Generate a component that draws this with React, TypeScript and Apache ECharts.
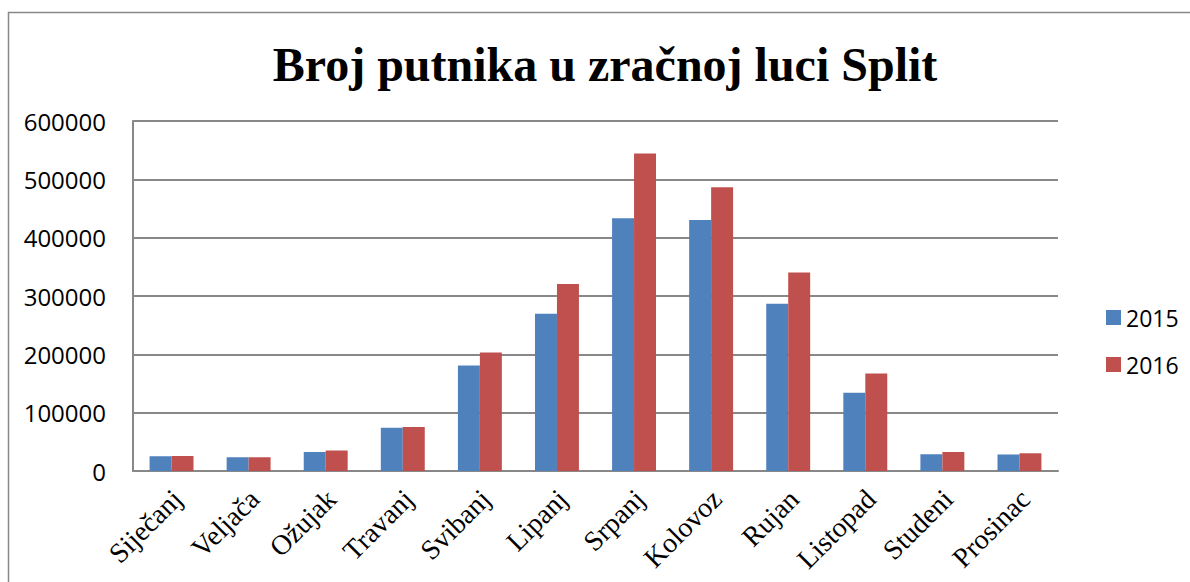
import React, { useEffect, useRef } from "react";
import * as echarts from "echarts";

const categories = ["Siječanj", "Veljača", "Ožujak", "Travanj", "Svibanj", "Lipanj", "Srpanj", "Kolovoz", "Rujan", "Listopad", "Studeni", "Prosinac"];
const series2015 = [25300, 23600, 32700, 74000, 180700, 269700, 433200, 430300, 286900, 134200, 28700, 28200];
const series2016 = [25800, 23600, 35100, 75500, 203000, 320700, 544400, 486600, 340300, 167000, 32700, 30400];
const seriesNames = ["2015", "2016"];
const titleText = "Broj putnika u zračnoj luci Split";

export default function App() {
  const ref = useRef<HTMLDivElement>(null);
  useEffect(() => {
    if (!ref.current) return;
    const chart = echarts.init(ref.current, undefined, { renderer: "svg" });
    chart.setOption({
      animation: false,
      backgroundColor: "#ffffff",
      title: {
        text: titleText,
        left: 600,
        textAlign: "center",
        top: 35,
        textStyle: { fontFamily: "Liberation Serif", fontWeight: "bold", fontSize: 48, color: "#000" },
      },
      legend: {
        orient: "vertical",
        left: 1101,
        top: 301,
        itemWidth: 15,
        itemHeight: 15,
        itemGap: 24,
        icon: "rect",
        textStyle: { fontFamily: "Open Sans", fontSize: 23, color: "#000" },
        data: seriesNames,
      },
      graphic: [
        {
          type: "rect",
          shape: { x: 8.5, y: 12.5, width: 1300, height: 700 },
          style: { fill: "none", stroke: "#888888", lineWidth: 1.5 },
          silent: true,
        },
      ],
      grid: { left: 133, top: 121, right: 132, bottom: 111, containLabel: false, outerBoundsMode: "none" },
      xAxis: {
        type: "category",
        data: categories,
        axisLine: { lineStyle: { color: "#888888", width: 2 } },
        axisTick: { show: false },
        axisLabel: {
          rotate: 45,
          interval: 0,
          margin: 29,
          align: "right",
          verticalAlign: "middle",
          padding: [0, -8, 0, 0],
          fontFamily: "Liberation Serif",
          fontSize: 28,
          color: "#000",
        },
      },
      yAxis: {
        type: "value",
        min: 0,
        max: 600000,
        interval: 100000,
        axisLine: { show: true, lineStyle: { color: "#888888", width: 2 } },
        axisTick: { show: false },
        splitLine: { lineStyle: { color: "#888888", width: 2 } },
        axisLabel: {
          margin: 27,
          fontFamily: "Open Sans",
          fontSize: 24,
          color: "#000",
          formatter: (v: number) => String(v),
        },
      },
      series: [
        {
          name: seriesNames[0],
          type: "bar",
          data: series2015,
          barGap: "0%",
          barCategoryGap: "43%",
          itemStyle: { color: "#4F81BD" },
        },
        {
          name: seriesNames[1],
          type: "bar",
          data: series2016,
          barGap: "0%",
          barCategoryGap: "43%",
          itemStyle: { color: "#C0504D" },
        },
      ],
    });
    return () => chart.dispose();
  }, []);
  return (
    <div style={{ position: "fixed", left: 0, top: 0, width: 1190, height: 582 }}>
      <div ref={ref} style={{ width: 1190, height: 582 }} />
    </div>
  );
}
